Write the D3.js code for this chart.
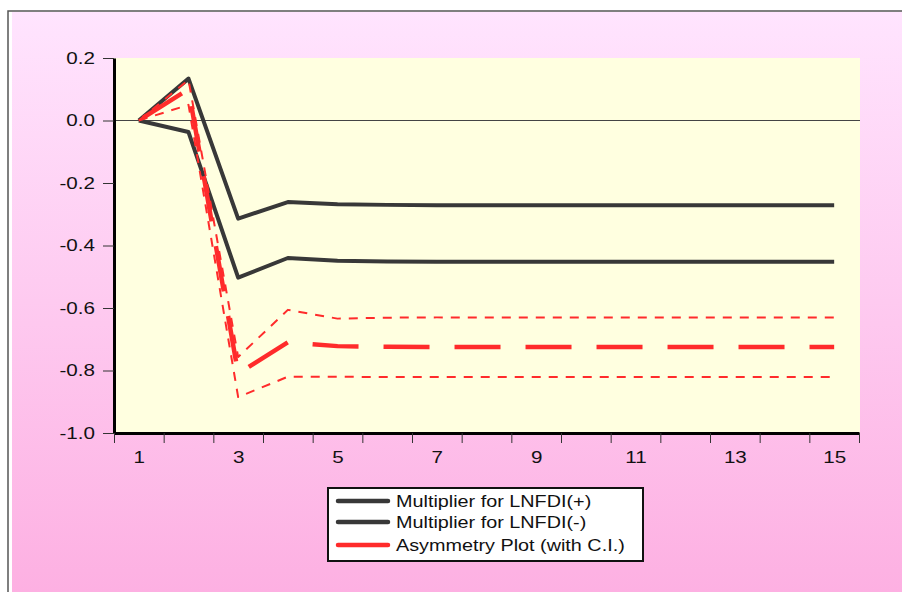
<!DOCTYPE html>
<html>
<head>
<meta charset="UTF-8">
<title>Multiplier graph</title>
<script src="https://d3js.org/d3.v7.min.js"></script>
<style>
	body { margin: 0; background: #fff; }
	text { font-family: "Liberation Sans", Arial, sans-serif; fill: #111; }
</style>
</head>
<body>
	<div id="svg-container"></div>
	<script type="text/javascript">

		// data
		let periods = [1, 2, 3, 4, 5, 6, 7, 8, 9, 10, 11, 12, 13, 14, 15];
		let multPos = [0, 0.134, -0.314, -0.261, -0.268, -0.270, -0.271, -0.271, -0.271, -0.271, -0.271, -0.271, -0.271, -0.271, -0.271];
		let multNeg = [0, -0.037, -0.503, -0.440, -0.449, -0.451, -0.452, -0.452, -0.452, -0.452, -0.452, -0.452, -0.452, -0.452, -0.452];
		let asym    = [0, 0.100, -0.810, -0.710, -0.722, -0.724, -0.725, -0.725, -0.725, -0.725, -0.725, -0.725, -0.725, -0.725, -0.725];
		let upperCI = [0, 0.130, -0.757, -0.606, -0.634, -0.631, -0.630, -0.630, -0.630, -0.630, -0.630, -0.630, -0.630, -0.630, -0.630];
		let lowerCI = [0, 0.050, -0.885, -0.820, -0.820, -0.821, -0.821, -0.821, -0.821, -0.821, -0.821, -0.821, -0.821, -0.821, -0.821];

		let yTicks = [0.2, 0.0, -0.2, -0.4, -0.6, -0.8, -1.0];
		let xLabels = [1, 3, 5, 7, 9, 11, 13, 15];
		let legendNames = ["Multiplier for LNFDI(+)", "Multiplier for LNFDI(-)", "Asymmetry Plot (with C.I.)"];

		let width = 902, height = 592;
		let plot = { left: 114, top: 58, right: 860, bottom: 433 };
		let stretch = "scale(1.2,1)";

		let svg = d3.select("#svg-container")
			.append("svg")
			.attr("width", width)
			.attr("height", height);

		// pink gradient background
		let grad = svg.append("defs").append("linearGradient")
			.attr("id", "bg").attr("x1", 0).attr("y1", 0).attr("x2", 0).attr("y2", 1);
		grad.append("stop").attr("offset", "0%").attr("stop-color", "#ffe4fe");
		grad.append("stop").attr("offset", "100%").attr("stop-color", "#fdb0e2");

		svg.append("rect")
			.attr("x", 8).attr("y", 11).attr("width", width).attr("height", height)
			.attr("fill", "#fff").attr("stroke", "#555").attr("stroke-width", 1.5);
		svg.append("rect")
			.attr("x", 12).attr("y", 12).attr("width", width - 12).attr("height", height - 12)
			.attr("fill", "url(#bg)");

		// plot area
		svg.append("rect")
			.attr("x", plot.left).attr("y", plot.top)
			.attr("width", plot.right - plot.left).attr("height", plot.bottom - plot.top)
			.attr("fill", "#ffffe0");

		let x = d3.scaleLinear().domain([0.5, 15.5]).range([plot.left, plot.right - 1]);
		let y = d3.scaleLinear().domain([-1.0, 0.2]).range([plot.bottom, plot.top]);

		// zero line
		svg.append("line")
			.attr("x1", plot.left).attr("x2", plot.right)
			.attr("y1", y(0)).attr("y2", y(0))
			.attr("stroke", "#444").attr("stroke-width", 1);

		// y axis
		let yAxis = svg.append("g")
			.attr("transform", `translate(${plot.left},0)`)
			.call(d3.axisLeft(y).tickValues(yTicks).tickSize(11).tickSizeOuter(0)
				.tickFormat(d => d.toFixed(1)));
		yAxis.select(".domain").attr("stroke", "#000").attr("stroke-width", 3);
		yAxis.selectAll(".tick line").attr("stroke", "#333");
		yAxis.selectAll(".tick text")
			.attr("x", 0)
			.attr("transform", "translate(-19,0) scale(1.25,1)")
			.style("font-size", "16.5px")
			.attr("fill", "#111");

		// x axis: ticks between periods, labels on odd periods
		let xTickPos = d3.range(0.5, 16, 1);
		let xAxis = svg.append("g")
			.attr("transform", `translate(0,${plot.bottom})`)
			.call(d3.axisBottom(x).tickValues(xTickPos).tickSize(10).tickSizeOuter(0).tickFormat(""));
		xAxis.select(".domain").attr("stroke", "#000").attr("stroke-width", 3);
		xAxis.selectAll(".tick line").attr("stroke", "#333");

		let xLab = svg.append("g")
			.attr("transform", `translate(0,${plot.bottom})`)
			.call(d3.axisBottom(x).tickValues(xLabels).tickSize(0).tickFormat(d3.format("d")));
		xLab.select(".domain").remove();
		xLab.selectAll(".tick text")
			.attr("y", 0)
			.attr("transform", "translate(0,18) scale(1.25,1)")
			.style("font-size", "16.5px")
			.attr("fill", "#111");

		// series
		let line = d3.line()
			.x((d, i) => x(periods[i]))
			.y(d => y(d));

		// line up the long dashes of the asymmetry line so one starts half way between periods 4 and 5
		let dashPeriod = 71;
		let lenTo4 = 0;
		for (let i = 1; i < 4; i++) {
			lenTo4 += Math.hypot(x(periods[i]) - x(periods[i - 1]), y(asym[i]) - y(asym[i - 1]));
		}
		let target = lenTo4 + (x(4.5) - x(4));
		let asymOffset = dashPeriod - (target % dashPeriod);

		let series = [
			{ values: multPos, color: "#383838", width: 4, dash: null, offset: 0 },
			{ values: multNeg, color: "#383838", width: 4, dash: null, offset: 0 },
			{ values: asym, color: "#ff2b2b", width: 4.5, dash: "46,25", offset: asymOffset },
			{ values: upperCI, color: "#ff2b2b", width: 2, dash: "9,8", offset: 0 },
			{ values: lowerCI, color: "#ff2b2b", width: 2, dash: "9,8", offset: 0 }
		];

		svg.selectAll("path.series")
			.data(series)
			.join("path")
			.attr("class", "series")
			.attr("d", d => line(d.values))
			.attr("fill", "none")
			.attr("stroke", d => d.color)
			.attr("stroke-width", d => d.width)
			.attr("stroke-dasharray", d => d.dash)
			.attr("stroke-dashoffset", d => d.offset)
			.attr("stroke-linejoin", "round");

		// legend
		let legend = svg.append("g").attr("transform", "translate(328,488)");
		legend.append("rect")
			.attr("width", 315).attr("height", 73)
			.attr("fill", "#fff").attr("stroke", "#111").attr("stroke-width", 2);

		let legendStyle = [
			{ color: "#383838", width: 4.5 },
			{ color: "#383838", width: 4.5 },
			{ color: "#ff2b2b", width: 4.5 }
		];
		let rows = [13, 34, 57];

		legendNames.forEach((name, i) => {
			legend.append("line")
				.attr("x1", 10).attr("x2", 60)
				.attr("y1", rows[i]).attr("y2", rows[i])
				.attr("stroke", legendStyle[i].color)
				.attr("stroke-width", legendStyle[i].width)
				.attr("stroke-linecap", "round");
			legend.append("g")
				.attr("transform", `translate(68,${rows[i]}) ` + stretch)
				.append("text")
				.attr("dy", "0.35em")
				.style("font-size", "16.5px")
				.text(name);
		});
	</script>
</body>
</html>
